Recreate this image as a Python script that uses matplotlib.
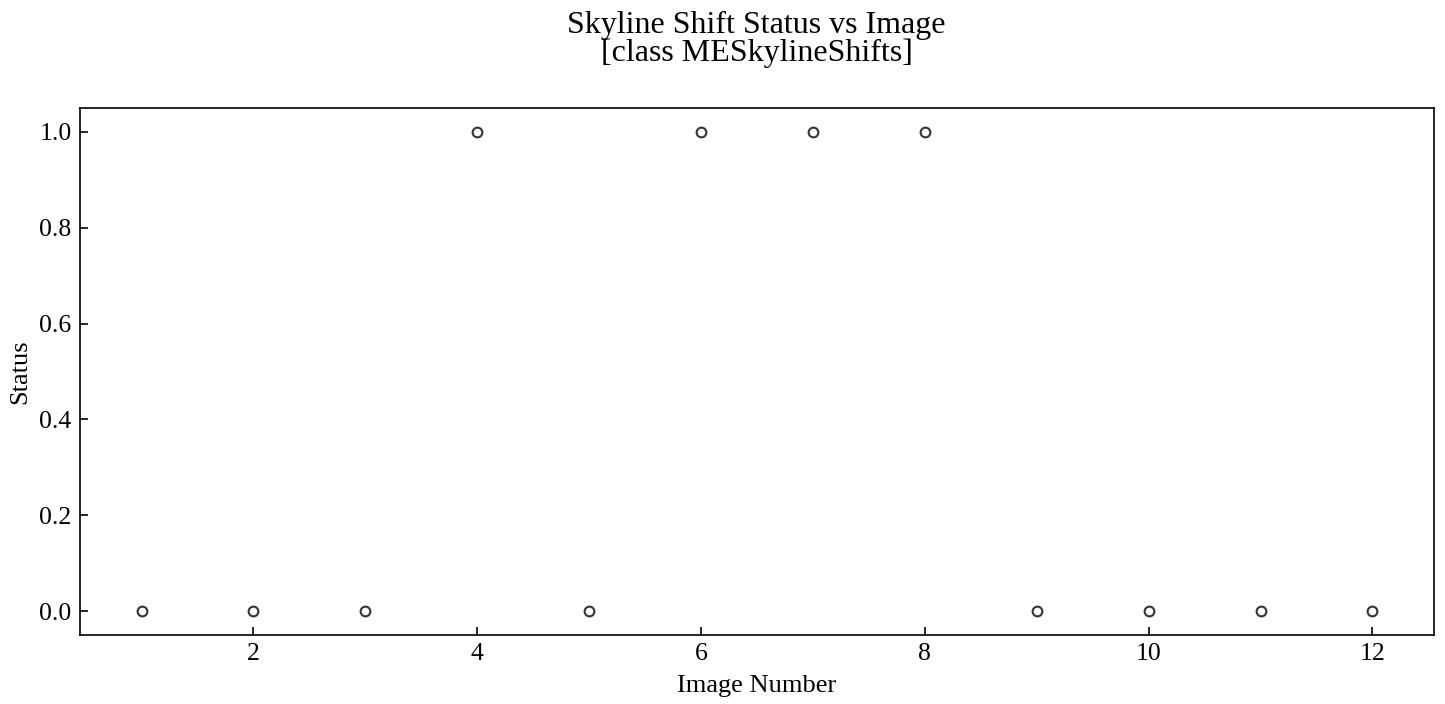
import matplotlib
matplotlib.use("Agg")
from matplotlib import pyplot as plt

image_numbers = [1, 2, 3, 4, 5, 6, 7, 8, 9, 10, 11, 12]
status = [0, 0, 0, 1, 0, 1, 1, 1, 0, 0, 0, 0]

plt.rcParams['font.family'] = ['Liberation Serif', 'DejaVu Serif']

fig = plt.figure(figsize=(14.45, 7.04), dpi=100)
ax = fig.add_axes([0.0554, 0.098, 0.937, 0.7486])
ax.plot(image_numbers, status, 'o', markerfacecolor='none',
        markeredgecolor='#333333', markeredgewidth=1.5, markersize=7)

ax.set_xticks([2, 4, 6, 8, 10, 12])
ax.set_yticks([0.0, 0.2, 0.4, 0.6, 0.8, 1.0])
ax.tick_params(direction='in', labelsize=18.5, length=6, width=1.2, pad=6)
ax.set_xlabel('Image Number', fontsize=19, labelpad=7)
ax.set_ylabel('Status', fontsize=19, labelpad=6)
for s in ax.spines.values():
    s.set_linewidth(1.2)
# title centred over the axes, not the figure
fig.suptitle('Skyline Shift Status vs Image\n[class MESkylineShifts]',
             fontsize=23, x=0.5237, y=0.985, linespacing=0.95)

fig.savefig('out.png', dpi=100)
